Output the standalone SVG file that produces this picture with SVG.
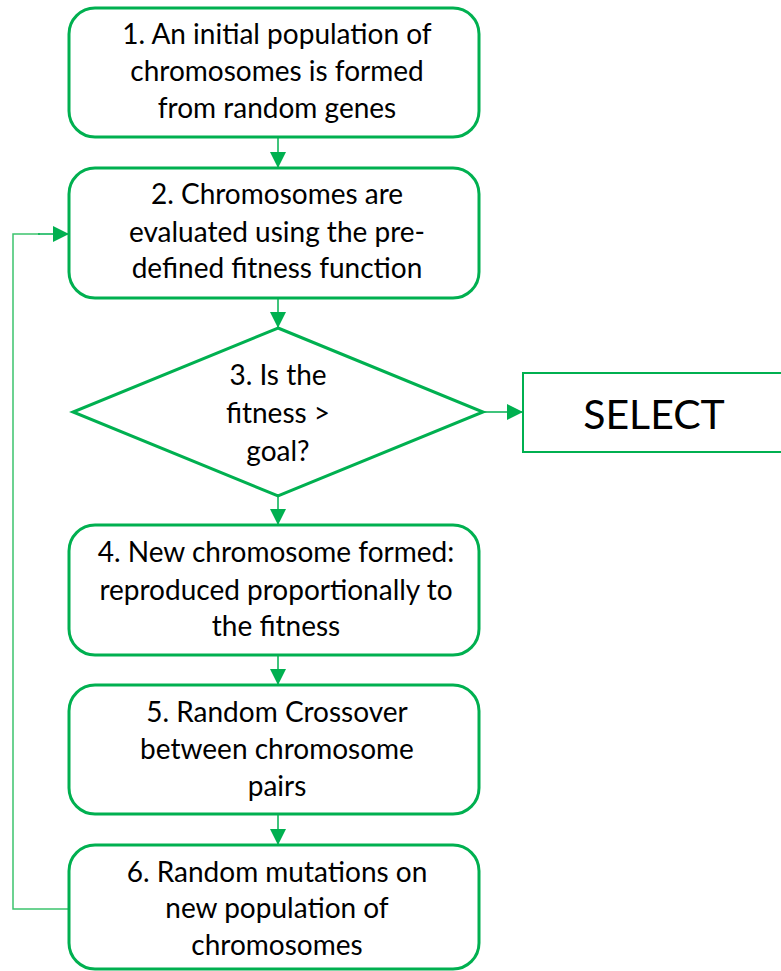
<svg xmlns="http://www.w3.org/2000/svg" width="781" height="971" viewBox="0 0 781 971">
<defs>
<marker id="ah" markerUnits="userSpaceOnUse" markerWidth="16" markerHeight="16" viewBox="0 0 16 16" refX="15" refY="8" orient="auto">
<path d="M0,0 L16,8 L0,16 Z" fill="#00B050"/>
</marker>
</defs>
<style>
.box{fill:#fff;stroke:#00B050;stroke-width:3}
.sel{fill:#fff;stroke:#00B050;stroke-width:2}
.t{font-family:Lato,"Liberation Sans",sans-serif;font-size:28px;fill:#000;text-anchor:middle}
.big{font-size:41px}
.c{fill:none;stroke:#00B050;stroke-width:1.5}
.loop{fill:none;stroke:#3cc46e;stroke-width:1.5}
</style>
<rect width="781" height="971" fill="#fff"/>
<g id="connectors">
<line class="c" x1="278" y1="138" x2="278" y2="167" marker-end="url(#ah)"/>
<line class="c" x1="278" y1="299" x2="278" y2="327" marker-end="url(#ah)"/>
<line class="c" x1="278" y1="496" x2="278" y2="524" marker-end="url(#ah)"/>
<line class="c" x1="278" y1="656" x2="278" y2="684" marker-end="url(#ah)"/>
<line class="c" x1="278" y1="815" x2="278" y2="844" marker-end="url(#ah)"/>
<line class="c" x1="484" y1="412" x2="522" y2="412" marker-end="url(#ah)"/>
<polyline class="loop" points="69,909 13,909 13,234 40,234"/>
<line class="c" x1="38" y1="234" x2="68" y2="234" marker-end="url(#ah)"/>
</g>
<g id="n1">
<rect class="box" x="69" y="8" width="410" height="129" rx="26"/>
<text class="t" x="277" y="44">1. An initial population of</text>
<text class="t" x="277" y="81">chromosomes is formed</text>
<text class="t" x="277" y="118">from random genes</text>
</g>
<g id="n2">
<rect class="box" x="69" y="168" width="410" height="130" rx="26"/>
<text class="t" x="277" y="204">2. Chromosomes are</text>
<text class="t" x="277" y="242">evaluated using the pre-</text>
<text class="t" x="277" y="278">defined fitness function</text>
</g>
<g id="n3">
<polygon class="box" points="278,328 483,412 278,496 73,412"/>
<text class="t" x="278" y="385">3. Is the</text>
<text class="t" x="278" y="423">fitness &gt;</text>
<text class="t" x="278" y="461">goal?</text>
</g>
<g id="select">
<rect class="sel" x="523" y="373" width="270" height="79"/>
<text class="t big" x="654" y="429">SELECT</text>
</g>
<g id="n4">
<rect class="box" x="69" y="525" width="410" height="130" rx="26"/>
<text class="t" x="276" y="562">4. New chromosome formed:</text>
<text class="t" x="276" y="600">reproduced proportionally to</text>
<text class="t" x="276" y="636">the fitness</text>
</g>
<g id="n5">
<rect class="box" x="69" y="685" width="410" height="129" rx="26"/>
<text class="t" x="277" y="722">5. Random Crossover</text>
<text class="t" x="277" y="759">between chromosome</text>
<text class="t" x="277" y="796">pairs</text>
</g>
<g id="n6">
<rect class="box" x="69" y="845" width="410" height="124" rx="26"/>
<text class="t" x="277" y="882">6. Random mutations on</text>
<text class="t" x="277" y="918">new population of</text>
<text class="t" x="277" y="955">chromosomes</text>
</g>
</svg>
